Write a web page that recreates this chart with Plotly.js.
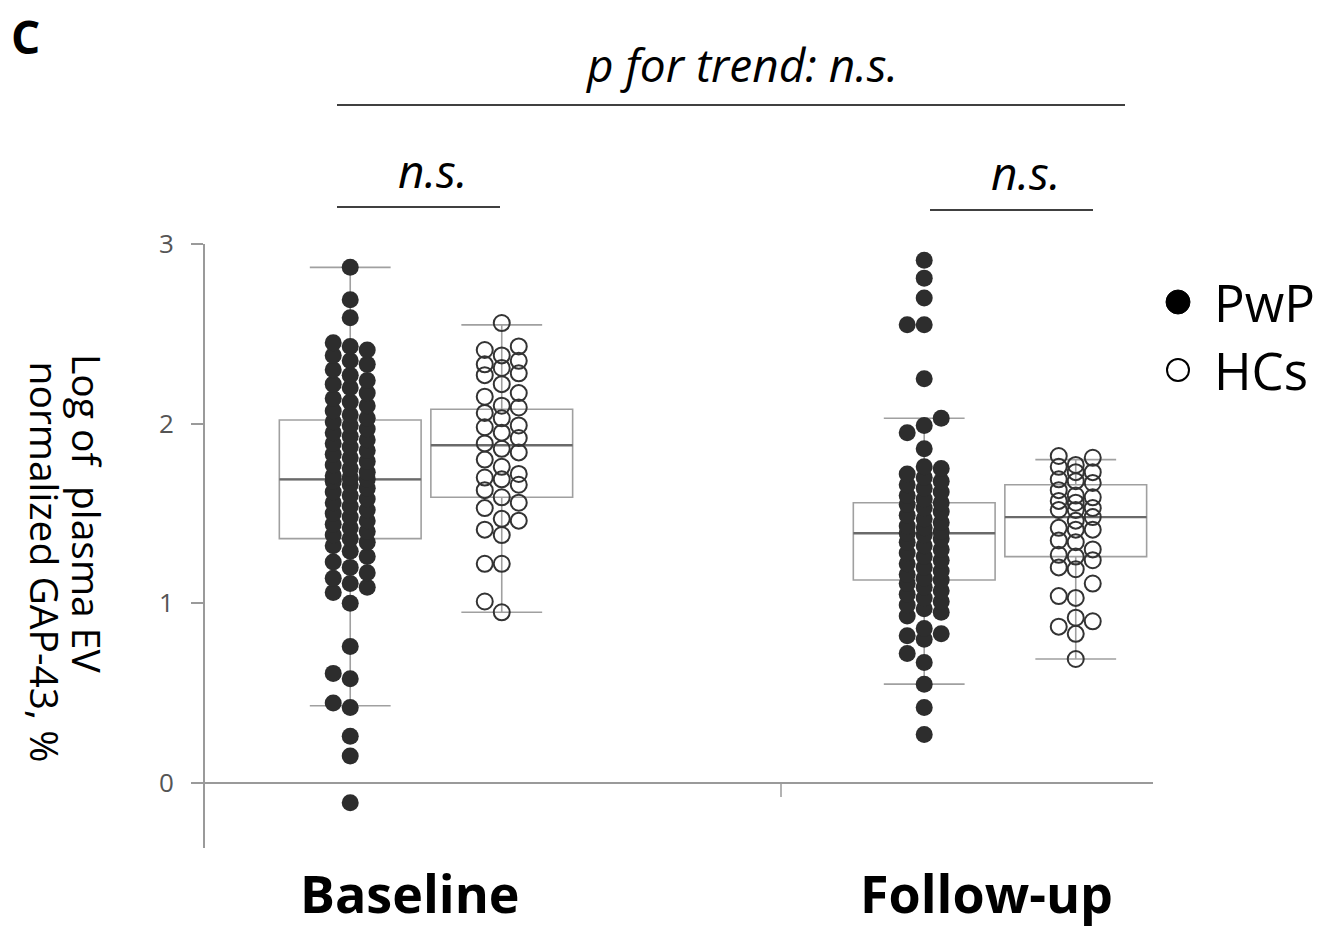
<!DOCTYPE html>
<html>
<head>
<meta charset="utf-8">
<script src="https://cdn.plot.ly/plotly-3.0.1.min.js"></script>
<style>html,body{margin:0;padding:0;background:#fff;}#chart{width:1318px;height:931px;}</style>
</head>
<body>
<div id="chart"></div>
<script>
// ---------------- data ----------------
const categories = ["Baseline", "Follow-up"];
const seriesNames = ["PwP", "HCs"];

const baselinePwP = [2.87, 2.69, 2.59,
  2.45, 2.43, 2.41, 2.38, 2.35, 2.33, 2.30, 2.27, 2.24, 2.22, 2.20, 2.17, 2.14, 2.12, 2.10,
  2.07, 2.05, 2.03, 2.01, 1.99, 1.97, 1.95, 1.93, 1.91, 1.89, 1.87, 1.85, 1.83, 1.81, 1.79,
  1.77, 1.75, 1.73, 1.71, 1.70, 1.69, 1.68, 1.66, 1.64, 1.62, 1.60, 1.58, 1.56, 1.54, 1.52,
  1.50, 1.48, 1.46, 1.44, 1.42, 1.40, 1.38, 1.36, 1.34, 1.32, 1.29, 1.26, 1.23, 1.20, 1.17,
  1.14, 1.11, 1.09, 1.06, 1.00, 0.76, 0.61, 0.58, 0.445, 0.42, 0.26, 0.15, -0.11];
const baselineHCs = [2.56, 2.43, 2.41, 2.38, 2.35, 2.33, 2.31, 2.28, 2.27, 2.22, 2.17, 2.15,
  2.10, 2.09, 2.06, 2.03, 1.99, 1.98, 1.95, 1.92, 1.89, 1.86, 1.84, 1.80, 1.76, 1.72, 1.70,
  1.69, 1.66, 1.63, 1.59, 1.56, 1.53, 1.47, 1.46, 1.41, 1.38, 1.22, 1.22, 1.01, 0.95];
const followupPwP = [2.91, 2.81, 2.70, 2.55, 2.55, 2.25, 2.03, 1.99, 1.95, 1.86,
  1.76, 1.75, 1.72, 1.70, 1.68, 1.66, 1.64, 1.62, 1.60, 1.58, 1.56, 1.55, 1.53, 1.51, 1.49,
  1.47, 1.45, 1.43, 1.42, 1.40, 1.39, 1.38, 1.36, 1.34, 1.32, 1.30, 1.28, 1.26, 1.24, 1.22,
  1.20, 1.18, 1.16, 1.14, 1.13, 1.11, 1.09, 1.07, 1.05, 1.03, 1.01, 0.99, 0.97, 0.95, 0.93,
  0.86, 0.83, 0.82, 0.80, 0.72, 0.67, 0.55, 0.42, 0.27];
const followupHCs = [1.82, 1.73, 1.67, 1.60, 1.56, 1.52, 1.42, 1.34, 1.26, 1.03,
  1.77, 1.73, 1.68, 1.59, 1.53, 1.48, 1.41, 1.27, 1.20, 0.90,
  1.81, 1.76, 1.69, 1.63, 1.57, 1.52, 1.46, 1.41, 1.35, 1.30, 1.24, 1.19, 1.11, 1.04, 0.92,
  0.87, 0.83, 0.69];

// box statistics: order = Baseline PwP, Baseline HCs, Follow-up PwP, Follow-up HCs
const boxQ1 = [1.36, 1.59, 1.13, 1.26];
const boxMedian = [1.69, 1.88, 1.39, 1.48];
const boxQ3 = [2.02, 2.08, 1.56, 1.66];
const boxLower = [0.43, 0.95, 0.55, 0.69];
const boxUpper = [2.87, 2.55, 2.03, 1.80];

const yTickVals = [0, 1, 2, 3];
const yTickText = ["0", "1", "2", "3"];
const yTitleLines = ["Log of  plasma EV", "normalized GAP-43, %"];
const trendText = "p for trend: n.s.";
const pairText = "n.s.";
const panelLabel = "C";

// ---------------- layout geometry ----------------
const W = 1318, H = 931;
const mL = 205, mR = 165, mT = 244, mB = 83;
const plotW = W - mL - mR, plotH = H - mT - mB;
const yRange = [-0.362, 3.0];
const xRange = [-0.385, 1.2666];
const pxPerX = plotW / (xRange[1] - xRange[0]);
const pxPerY = plotH / (yRange[1] - yRange[0]);
const groupOffset = 0.132;
const boxWidth = 0.247;
const dotDiam = 17;

function px2paperX(px) { return (px - mL) / plotW; }
function px2paperY(py) { return (H - mB - py) / plotH; }

// simple 3-column beeswarm layout
function swarm(values, center) {
  const sorted = values.slice().sort((a, b) => a - b);
  const cols = [0, -1, 1];
  const last = {"0": -Infinity, "-1": -Infinity, "1": -Infinity};
  const xs = [], ys = [];
  sorted.forEach(v => {
    const yp = v * pxPerY;
    let chosen = null;
    for (const c of cols) { if (yp - last[c] >= dotDiam) { chosen = c; break; } }
    if (chosen === null) {
      let best = -Infinity;
      for (const c of cols) { const g = yp - last[c]; if (g > best + 1e-9) { best = g; chosen = c; } }
    }
    last[chosen] = yp;
    xs.push(center + chosen * 17 / pxPerX);
    ys.push(v);
  });
  return {x: xs, y: ys};
}

const positions = [0 - groupOffset, 0 + groupOffset, 1 - groupOffset, 1 + groupOffset];
const groups = [baselinePwP, baselineHCs, followupPwP, followupHCs];

const traces = [];
traces.push({
  type: "box", x: positions, q1: boxQ1, median: boxMedian, q3: boxQ3,
  lowerfence: boxLower, upperfence: boxUpper, width: boxWidth, whiskerwidth: 0.57,
  boxpoints: false, fillcolor: "rgba(0,0,0,0)", line: {color: "#a0a0a0", width: 1.6},
  showlegend: false, hoverinfo: "skip"
});
// darker median lines
for (let i = 0; i < 4; i++) {
  traces.push({
    type: "scatter", mode: "lines",
    x: [positions[i] - boxWidth / 2, positions[i] + boxWidth / 2],
    y: [boxMedian[i], boxMedian[i]],
    line: {color: "#6a6a6a", width: 2.4}, showlegend: false, hoverinfo: "skip"
  });
}
groups.forEach((vals, i) => {
  const s = swarm(vals, positions[i]);
  const isPwP = i % 2 === 0;
  traces.push({
    type: "scatter", mode: "markers", x: s.x, y: s.y, name: seriesNames[i % 2],
    cliponaxis: false, showlegend: false,
    marker: isPwP ? {symbol: "circle", size: dotDiam, color: "#2d2d2d", line: {width: 0}}
                  : {symbol: "circle-open", size: 16, color: "#333333", line: {width: 2, color: "#333333"}}
  });
});

const F = "'Open Sans', 'Noto Sans', sans-serif";
function ann(text, px, py, size, extra) {
  return Object.assign({text: text, xref: "paper", yref: "paper", x: px2paperX(px), y: px2paperY(py),
    xanchor: "center", yanchor: "middle", showarrow: false, font: {family: F, size: size, color: "#000"}}, extra || {});
}
const annotations = [
  ann("<b>" + panelLabel + "</b>", 9, 36, 46, {xanchor: "left"}),
  ann("<i>" + trendText + "</i>", 742, 64, 46),
  ann("<i>" + pairText + "</i>", 432, 170, 46),
  ann("<i>" + pairText + "</i>", 1025, 172, 46),
  ann(yTitleLines[0], 88, 352, 39, {textangle: 90, yanchor: "top"}),
  ann(yTitleLines[1], 45, 359, 39, {textangle: 90, yanchor: "top"}),
  ann("<b>" + categories[0] + "</b>", 410, 930, 52, {yanchor: "bottom"}),
  ann("<b>" + categories[1] + "</b>", 986, 930, 52, {yanchor: "bottom"}),
  ann(seriesNames[0], 1212, 302, 51, {xanchor: "left"}),
  ann(seriesNames[1], 1212, 370, 51, {xanchor: "left"})
];

function hline(x0, x1, y, color, w) {
  return {type: "line", xref: "paper", yref: "paper", x0: px2paperX(x0), x1: px2paperX(x1),
          y0: px2paperY(y), y1: px2paperY(y), line: {color: color, width: w}};
}
const shapes = [
  hline(337, 1125, 105, "#000", 1.5),
  hline(337, 500, 207, "#000", 1.5),
  hline(930, 1093, 210, "#000", 1.5),
  {type: "line", xref: "paper", yref: "paper", x0: px2paperX(781), x1: px2paperX(781),
   y0: px2paperY(784), y1: px2paperY(797), line: {color: "#9a9a9a", width: 1.5}},
  {type: "circle", xref: "paper", yref: "paper", xsizemode: "pixel", ysizemode: "pixel",
   xanchor: px2paperX(1178), yanchor: px2paperY(302), x0: -12, x1: 12, y0: -12, y1: 12,
   fillcolor: "#000", line: {color: "#000", width: 1}},
  {type: "circle", xref: "paper", yref: "paper", xsizemode: "pixel", ysizemode: "pixel",
   xanchor: px2paperX(1178), yanchor: px2paperY(370), x0: -11, x1: 11, y0: -11, y1: 11,
   fillcolor: "rgba(0,0,0,0)", line: {color: "#000", width: 2}}
];

const layout = {
  width: W, height: H,
  margin: {l: mL, r: mR, t: mT, b: mB, pad: 0},
  paper_bgcolor: "#fff", plot_bgcolor: "#fff",
  showlegend: false,
  xaxis: {range: xRange, showgrid: false, zeroline: false, showline: false, showticklabels: false, ticks: "", fixedrange: true},
  yaxis: {range: yRange, tickvals: yTickVals, ticktext: yTickText, showgrid: false,
          zeroline: true, zerolinecolor: "#9a9a9a", zerolinewidth: 2,
          showline: true, linecolor: "#9a9a9a", linewidth: 2,
          ticks: "outside", ticklen: 12, tickcolor: "#9a9a9a", tickwidth: 2,
          ticklabelstandoff: 12, tickfont: {family: F, size: 26, color: "#555"}, fixedrange: true},
  annotations: annotations, shapes: shapes
};

Plotly.newPlot("chart", traces, layout, {displayModeBar: false, staticPlot: true});
</script>
</body>
</html>
